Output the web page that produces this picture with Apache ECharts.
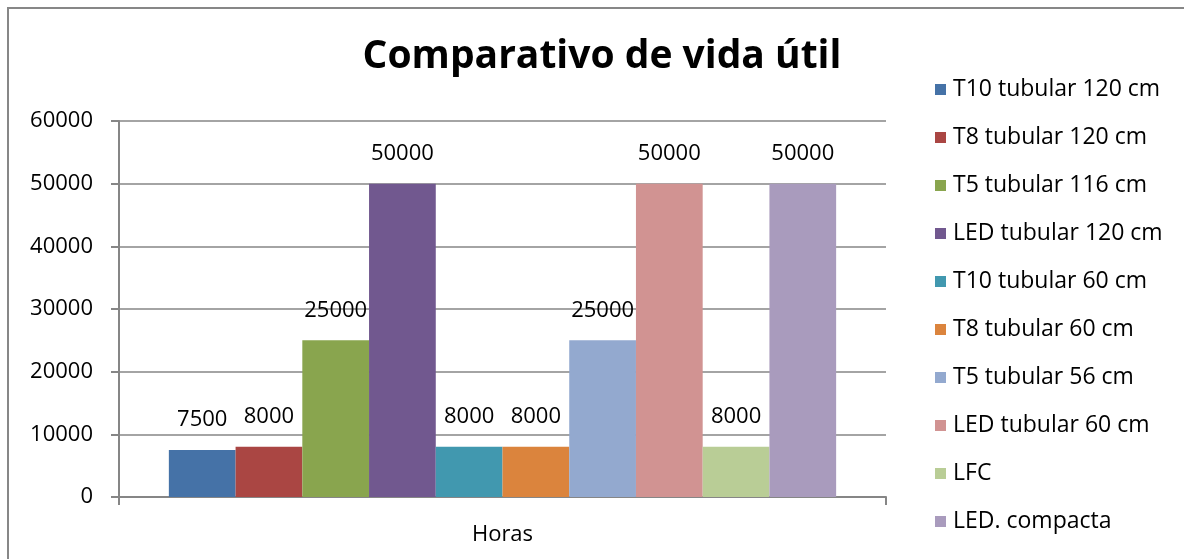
<!DOCTYPE html>
<html>
<head>
<meta charset="utf-8">
<script src="https://cdn.jsdelivr.net/npm/echarts@6/dist/echarts.min.js"></script>
<style>
  html, body { margin: 0; padding: 0; background: #fff; overflow: hidden; }
  #chart { width: 1184px; height: 559px; }
</style>
</head>
<body>
<div id="chart"></div>
<script>
var categories = ['Horas'];
var seriesNames = [
  'T10 tubular 120 cm', 'T8 tubular 120 cm', 'T5 tubular 116 cm', 'LED tubular 120 cm',
  'T10 tubular 60 cm', 'T8 tubular 60 cm', 'T5 tubular 56 cm', 'LED tubular 60 cm',
  'LFC', 'LED. compacta'
];
var seriesValues = [7500, 8000, 25000, 50000, 8000, 8000, 25000, 50000, 8000, 50000];
var seriesColors = [
  '#4572A7', '#AA4643', '#89A54E', '#71588F', '#4198AF',
  '#DB843D', '#93A9CF', '#D19392', '#B9CD96', '#A99BBD'
];

var font = '"Open Sans", sans-serif';
var chart = echarts.init(document.getElementById('chart'));

var series = seriesNames.map(function (name, i) {
  return {
    name: name,
    type: 'bar',
    data: [seriesValues[i]],
    barGap: 0,
    barCategoryGap: '13%',
    itemStyle: { color: seriesColors[i] },
    label: {
      show: true,
      position: 'top',
      distance: 19,
      color: '#000',
      fontFamily: font,
      fontSize: 22
    }
  };
});

chart.setOption({
  animation: false,
  backgroundColor: '#fff',
  title: {
    text: 'Comparativo de vida útil',
    left: 597,
    textAlign: 'center',
    top: 32,
    textStyle: { fontFamily: font, fontWeight: 'bold', fontSize: 39, color: '#000' }
  },
  legend: {
    orient: 'vertical',
    left: 930,
    top: 73,
    itemWidth: 11,
    itemHeight: 11,
    itemGap: 25,
    icon: 'rect',
    textStyle: { fontFamily: font, fontSize: 23, color: '#000', padding: [0, 0, 0, 2] },
    data: seriesNames
  },
  grid: { left: 119, right: 298, top: 121, bottom: 62 },
  xAxis: {
    type: 'category',
    data: categories,
    axisLine: { lineStyle: { color: '#868686', width: 2 } },
    axisTick: { show: true, length: 8, lineStyle: { color: '#868686', width: 2 } },
    axisLabel: { margin: 27, color: '#000', fontFamily: font, fontSize: 22 }
  },
  yAxis: {
    type: 'value',
    min: 0,
    max: 60000,
    interval: 10000,
    axisLine: { show: true, lineStyle: { color: '#868686', width: 2 } },
    axisTick: { show: true, length: 8, lineStyle: { color: '#868686', width: 2 } },
    axisLabel: {
      margin: 26, color: '#000', fontFamily: font, fontSize: 22,
      formatter: function (v) { return String(v); }
    },
    splitLine: { show: true, lineStyle: { color: '#868686', width: 1.5 } }
  },
  graphic: [{
    type: 'polyline',
    shape: { points: [[8, 559], [8, 8], [1184, 8]] },
    style: { fill: null, stroke: '#878787', lineWidth: 2 },
    silent: true
  }],
  series: series
});
</script>
</body>
</html>
